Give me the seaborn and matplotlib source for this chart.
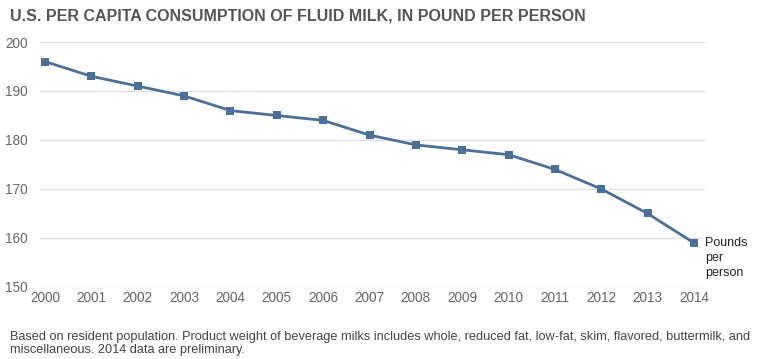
import matplotlib
matplotlib.use("Agg")
import matplotlib.pyplot as plt
import seaborn as sns
import pandas as pd

years = list(range(2000, 2015))
pounds = [196, 193, 191, 189, 186, 185, 184, 181, 179, 178, 177, 174, 170, 165, 159]
y_ticks = [150, 160, 170, 180, 190, 200]

df = pd.DataFrame({"year": years, "pounds": pounds})

sns.set_style("white")
plt.rcParams["font.family"] = ["Liberation Sans", "DejaVu Sans"]

fig = plt.figure(figsize=(7.59, 3.59), dpi=100)
ax = fig.add_axes([0.0527, 0.2006, 0.8762, 0.6824])

line_color = "#4a6f98"
sns.lineplot(data=df, x="year", y="pounds", ax=ax, color=line_color,
             linewidth=2, marker="s", markersize=5.5, markeredgewidth=0,
             markerfacecolor=line_color)

ax.set_xlim(1999.89, 2014.24)
ax.set_ylim(150, 200)
ax.set_yticks(y_ticks)
ax.set_xticks(years)
ax.set_xticklabels([str(y) for y in years])
ax.grid(axis="y", color="#e0e0e0", linewidth=1)
ax.grid(axis="x", visible=False)
for s in ax.spines.values():
    s.set_visible(False)
ax.tick_params(axis="both", length=0, labelsize=9.8, colors="#666666")
ax.tick_params(axis="x", pad=3)
ax.tick_params(axis="y", pad=9)
ax.set_xlabel("")
ax.set_ylabel("")

# label at the last point
ax.annotate("Pounds\nper\nperson", xy=(years[-1], pounds[-1]), xytext=(8, 4),
            textcoords="offset points", ha="left", va="top", fontsize=9,
            color="#222222", linespacing=1.3)

fig.text(0.013, 0.975, "U.S. PER CAPITA CONSUMPTION OF FLUID MILK, IN POUND PER PERSON",
         ha="left", va="top", fontsize=11.5, fontweight="bold", color="#555555")
fig.text(0.013, 0.077,
         "Based on resident population. Product weight of beverage milks includes whole, reduced fat, low-fat, skim, flavored, buttermilk, and\nmiscellaneous. 2014 data are preliminary.",
         ha="left", va="top", fontsize=9.2, color="#444444", linespacing=1.05)

fig.savefig("out.png", dpi=100)
